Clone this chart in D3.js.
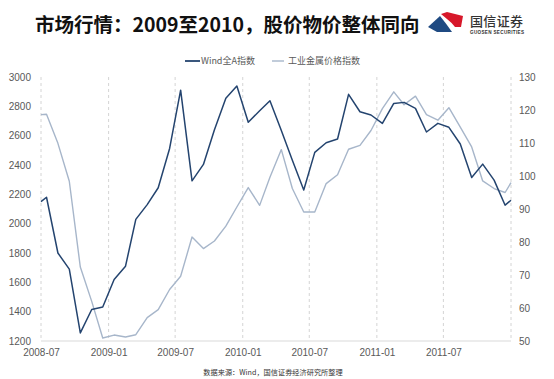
<!DOCTYPE html>
<html><head><meta charset="utf-8">
<script src="https://cdn.jsdelivr.net/npm/d3@7"></script>
<style>
html,body{margin:0;padding:0;background:#fff;}
svg{display:block;}
</style></head>
<body>
<svg id="c" width="554" height="379"></svg>
<script>
// ---- data ----
const dates = ["2008-07-01","2008-07-16","2008-08-16","2008-09-16","2008-10-16","2008-11-16","2008-12-16",
"2009-01-16","2009-02-16","2009-03-16","2009-04-16","2009-05-16","2009-06-16","2009-07-16","2009-08-16",
"2009-09-16","2009-10-16","2009-11-16","2009-12-16","2010-01-16","2010-02-16","2010-03-16","2010-04-16",
"2010-05-16","2010-06-16","2010-07-16","2010-08-16","2010-09-16","2010-10-16","2010-11-16","2010-12-16",
"2011-01-16","2011-02-16","2011-03-16","2011-04-16","2011-05-16","2011-06-16","2011-07-16","2011-08-16",
"2011-09-16","2011-10-16","2011-11-16","2011-12-16","2012-01-01"];
const windA = [2150,2180,1800,1690,1255,1415,1432,1619,1710,2029,2130,2245,2513,2910,2292,2404,2640,2855,2939,
2691,2770,2838,2635,2433,2229,2486,2552,2577,2882,2763,2741,2684,2820,2827,2786,2625,2684,2657,2543,2315,2406,2297,2126,2160];
const metal = [118.6,118.7,109.9,98.4,72.4,62.0,50.9,51.8,51.2,51.9,57.1,59.5,65.6,69.6,81.5,78.0,80.3,84.8,90.6,
96.5,91.1,99.6,108.0,96.2,89.1,89.1,97.7,100.4,108.1,109.3,113.8,120.4,125.5,121.6,124.2,118.6,116.9,120.7,114.8,108.8,98.5,96.2,95.0,98.0];
const xTicks = ["2008-07","2009-01","2009-07","2010-01","2010-07","2011-01","2011-07","2012-01"];
const xTickLabels = ["2008-07","2009-01","2009-07","2010-01","2010-07","2011-01","2011-07",""];
const leftTicks = [1200,1400,1600,1800,2000,2200,2400,2600,2800,3000];
const rightTicks = [50,60,70,80,90,100,110,120,130];
const seriesNames = ["Wind全A指数","工业金属价格指数"];
const titleText = "市场行情：2009至2010，股价物价整体同向";
const sourceText = "数据来源：Wind，国信证券经济研究所整理";

// ---- drawing ----
const svg = d3.select("#c");
const parseD = d3.utcParse("%Y-%m-%d");
const parseM = d3.utcParse("%Y-%m");
const L = 41, R = 511, T = 77, B = 341;
const x = d3.scaleUtc().domain([parseM("2008-07"), parseM("2012-01")]).range([L, R]);
const yL = d3.scaleLinear().domain([1200, 3000]).range([B, T]);
const yR = d3.scaleLinear().domain([50, 130]).range([B, T]);
const axisFont = "'Liberation Sans', Arial, sans-serif";
const cjk = "'Noto Sans CJK SC', sans-serif";

// title
svg.append("text").attr("x", 35).attr("y", 32).attr("font-family", cjk).attr("font-weight", 700)
  .attr("font-size", 19.5).attr("fill", "#111").text(titleText);

// logo
const logo = svg.append("g");
logo.append("path").attr("d", "M428,27 L440,16 Q444,21 447,25 L452,32 L437,32 Z").attr("fill", "#1f4a82");
logo.append("path").attr("d", "M441,14 L447,12 L463,16 L461,27 L455,27 Q451,22 447,19 Z").attr("fill", "#d7182a");
logo.append("text").attr("x", 470).attr("y", 26).attr("font-family", cjk).attr("font-weight", 500)
  .attr("font-size", 13).attr("fill", "#333").attr("textLength", 53).text("国信证券");
logo.append("text").attr("x", 470).attr("y", 34).attr("font-family", axisFont).attr("font-weight", 700)
  .attr("font-size", 4.6).attr("fill", "#333").attr("textLength", 54).text("GUOSEN SECURITIES");

// gridlines
svg.append("g").selectAll("line").data(xTicks).join("line")
  .attr("x1", d => x(parseM(d))).attr("x2", d => x(parseM(d)))
  .attr("y1", T).attr("y2", B)
  .attr("stroke", "#d4d4d4").attr("stroke-width", 1).attr("stroke-dasharray", "3,3");

// bottom axis line
svg.append("line").attr("x1", L).attr("x2", R).attr("y1", B).attr("y2", B).attr("stroke", "#d9d9d9").attr("stroke-width", 1);

// x axis labels
const xAxis = d3.axisBottom(x).tickValues(xTicks.map(parseM)).tickSize(0).tickPadding(8)
  .tickFormat((d, i) => xTickLabels[i]);
const gx = svg.append("g").attr("transform", `translate(0,${B})`).call(xAxis);
gx.select(".domain").remove();
gx.selectAll("text").attr("font-family", axisFont).attr("font-size", 10).attr("fill", "#595959");

// left axis
const gl = svg.append("g").attr("transform", `translate(${L - 10},0)`)
  .call(d3.axisLeft(yL).tickValues(leftTicks).tickSize(0).tickPadding(0).tickFormat(d3.format("d")));
gl.select(".domain").remove();
gl.selectAll("text").attr("font-family", axisFont).attr("font-size", 10).attr("fill", "#595959");

// right axis
const gr = svg.append("g").attr("transform", `translate(${R + 8},0)`)
  .call(d3.axisRight(yR).tickValues(rightTicks).tickSize(0).tickPadding(0).tickFormat(d3.format("d")));
gr.select(".domain").remove();
gr.selectAll("text").attr("font-family", axisFont).attr("font-size", 10).attr("fill", "#595959");

// lines
const pts = dates.map(parseD);
const lineL = d3.line().x((d, i) => x(pts[i])).y(d => yL(d));
const lineR = d3.line().x((d, i) => x(pts[i])).y(d => yR(d));
svg.append("path").datum(metal).attr("d", lineR).attr("fill", "none")
  .attr("stroke", "#a7b6ca").attr("stroke-width", 1.4).attr("stroke-linejoin", "round");
svg.append("path").datum(windA).attr("d", lineL).attr("fill", "none")
  .attr("stroke", "#24446f").attr("stroke-width", 1.5).attr("stroke-linejoin", "round");

// legend
const lg = svg.append("g").attr("transform", "translate(0,61)");
lg.append("line").attr("x1", 185).attr("x2", 200).attr("y1", 0).attr("y2", 0).attr("stroke", "#24446f").attr("stroke-width", 1.8);
lg.append("text").attr("x", 201).attr("y", 3.3).attr("font-family", cjk).attr("font-size", 9).attr("fill", "#595959").text(seriesNames[0]);
lg.append("line").attr("x1", 272).attr("x2", 284).attr("y1", 0).attr("y2", 0).attr("stroke", "#a7b6ca").attr("stroke-width", 1.4);
lg.append("text").attr("x", 288).attr("y", 3.3).attr("font-family", cjk).attr("font-size", 9).attr("fill", "#595959").text(seriesNames[1]);

// source
svg.append("text").attr("x", 273).attr("y", 375).attr("text-anchor", "middle").attr("font-family", cjk)
  .attr("font-size", 7.2).attr("fill", "#333").text(sourceText);
</script>
</body></html>
